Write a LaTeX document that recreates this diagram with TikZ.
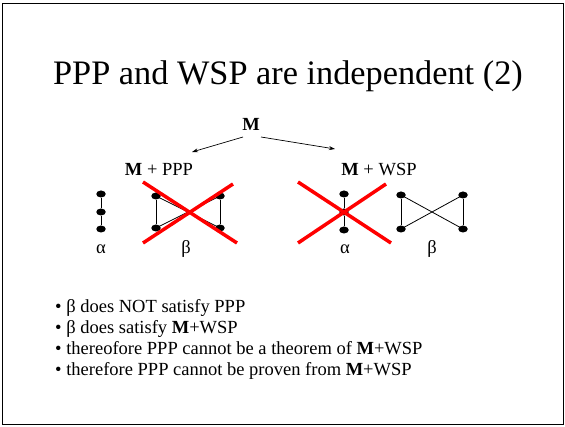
\documentclass[tikz,border=0pt]{standalone}
\usepackage{fontspec}
\setmainfont{Liberation Serif}
\usetikzlibrary{arrows.meta,shapes.geometric}
\begin{document}
\begin{tikzpicture}[x=1pt,y=-1pt,
  vdot/.style={ellipse,fill=black,inner sep=0pt,minimum width=9.5pt,minimum height=7pt},
  edge/.style={line width=0.8pt},
  cross/.style={red,line width=3.5pt},
  lbl/.style={inner sep=0pt,anchor=base,font=\fontsize{18.5}{22}\selectfont},
  bul/.style={inner sep=0pt,anchor=base west,font=\fontsize{18.5}{22}\selectfont},
  arr/.style={-{Stealth[length=6pt,width=4pt]},line width=0.7pt}]
\useasboundingbox (0,0) rectangle (565,427);
\draw[line width=1.5pt] (2.5,3.5) rectangle (563.5,424.5);
% title
\node[inner sep=0pt,anchor=base,font=\fontsize{34.3}{38}\selectfont] (title) at (288,85) {PPP and WSP are independent (2)};
% M and arrows
\node[lbl] (M) at (251,131) {\textbf{M}};
\coordinate (ml) at (243,137);
\coordinate (mr) at (261,137);
\coordinate (al) at (192,152);
\coordinate (ar) at (335,149);
\draw[arr] (ml) -- (al);
\draw[arr] (mr) -- (ar);
\node[lbl] (mppp) at (159,176) {\textbf{M} + PPP};
\node[lbl] (mwsp) at (379,176) {\textbf{M} + WSP};
% left alpha
\node[vdot] (a1) at (101,194) {};
\node[vdot] (a2) at (101,212) {};
\node[vdot] (a3) at (101,229) {};
\draw[edge] (a1) -- (a2) -- (a3);
\node[lbl] (alab1) at (101,254) {α};
% left beta
\node[vdot] (b1) at (156,196) {};
\node[vdot] (b2) at (220,196) {};
\node[vdot] (b3) at (156,228) {};
\node[vdot] (b4) at (220,228) {};
\draw[edge] (b1) -- (b3);
\draw[edge] (b2) -- (b4);
\draw[edge] (b1.center) -- (b4.center);
\draw[edge] (b3.center) -- (b2.center);
\node[lbl] (blab1) at (186,254) {β};
% left red X
\coordinate (x1a) at (143,182);
\coordinate (x1b) at (237,243);
\coordinate (x1c) at (143,243);
\coordinate (x1d) at (233,184);
\draw[cross] (x1a) -- (x1b);
\draw[cross] (x1c) -- (x1d);
% right alpha
\node[vdot] (c1) at (344,194) {};
\node[vdot] (c2) at (344,212) {};
\node[vdot] (c3) at (344,230) {};
\draw[edge] (c1) -- (c2) -- (c3);
\node[lbl] (alab2) at (345,254) {α};
% right red X
\coordinate (x2a) at (298,182);
\coordinate (x2b) at (391,243);
\coordinate (x2c) at (298,243);
\coordinate (x2d) at (386,184);
\draw[cross] (x2a) -- (x2b);
\draw[cross] (x2c) -- (x2d);
% right beta
\node[vdot] (d1) at (401,195) {};
\node[vdot] (d2) at (463,195) {};
\node[vdot] (d3) at (401,229) {};
\node[vdot] (d4) at (463,229) {};
\draw[edge] (d1) -- (d3);
\draw[edge] (d2) -- (d4);
\draw[edge] (d1.center) -- (d4.center);
\draw[edge] (d3.center) -- (d2.center);
\node[lbl] (blab2) at (432,254) {β};
% bullets
\node[bul] (l1) at (55,313) {• β does NOT satisfy PPP};
\node[bul] (l2) at (55,334) {• β does satisfy \textbf{M}+WSP};
\node[bul] (l3) at (55,355) {• thereofore PPP cannot be a theorem of \textbf{M}+WSP};
\node[bul] (l4) at (55,376) {• therefore PPP cannot be proven from \textbf{M}+WSP};
\end{tikzpicture}
\end{document}
